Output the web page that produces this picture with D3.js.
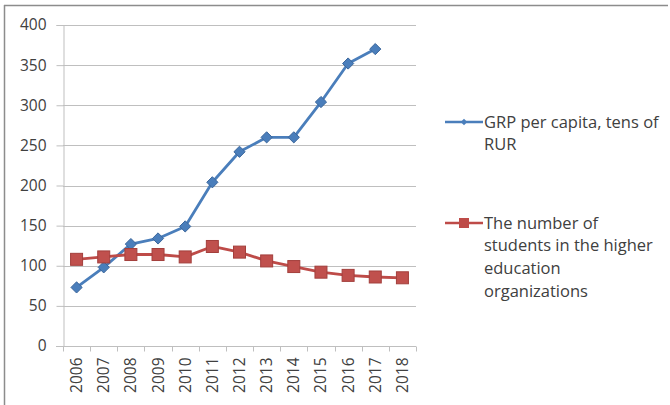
<!DOCTYPE html>
<html>
<head>
<meta charset="utf-8">
<script src="https://cdn.jsdelivr.net/npm/d3@7"></script>
<style>
  html, body { margin: 0; padding: 0; background: #fff; }
  svg { display: block; }
  text { font-family: "Open Sans", Lato, sans-serif; fill: #404040; }
</style>
</head>
<body>
<svg id="chart" width="670" height="405"></svg>
<script>
// Years on the category axis
const years = ["2006","2007","2008","2009","2010","2011","2012","2013","2014","2015","2016","2017","2018"];
// GRP per capita, tens of RUR (no value for 2018)
const grpValues = [73, 98, 127, 134, 149, 204, 242, 260, 260, 304, 352, 370, null];
// Students in higher education organizations
const studentValues = [108, 111, 114, 114, 111, 124, 117, 106, 99, 92, 88, 86, 85];
// Value-axis tick labels
const yTicks = [0, 50, 100, 150, 200, 250, 300, 350, 400];
// Legend entries
const grpLabel = ["GRP per capita, tens of", "RUR"];
const studentLabel = ["The number of", "students in the higher", "education", "organizations"];

const svg = d3.select("#chart");
const plot = { left: 63, right: 416, top: 25, bottom: 346 };
const fontFamily = "'Open Sans', Lato, sans-serif";

const x = d3.scaleBand().domain(years).range([plot.left, plot.right]);
const y = d3.scaleLinear().domain([0, 400]).range([plot.bottom, plot.top]);

// Outer chart frame (left and top edges)
svg.append("line").attr("x1", 4.5).attr("x2", 4.5).attr("y1", 5).attr("y2", 405)
  .attr("stroke", "#8c8c8c").attr("stroke-width", 1.5);
svg.append("line").attr("x1", 4).attr("x2", 668).attr("y1", 5.5).attr("y2", 5.5)
  .attr("stroke", "#8c8c8c").attr("stroke-width", 1.5);

// Horizontal gridlines
svg.append("g").selectAll("line").data(yTicks.filter(d => d > 0)).join("line")
  .attr("x1", plot.left).attr("x2", plot.right)
  .attr("y1", d => Math.round(y(d)) + 0.5).attr("y2", d => Math.round(y(d)) + 0.5)
  .attr("stroke", "#bfbfbf").attr("stroke-width", 1.2);

// Value axis
const yAxis = svg.append("g")
  .attr("transform", `translate(${plot.left + 0.5},0)`)
  .call(d3.axisLeft(y).tickValues(yTicks).tickSize(7).tickPadding(10).tickFormat(d3.format("d")));
yAxis.select(".domain").attr("stroke", "#bfbfbf");
yAxis.selectAll(".tick line").attr("stroke", "#bfbfbf");
yAxis.selectAll(".tick text").attr("font-size", 15.5).attr("fill", "#404040")
  .attr("font-family", fontFamily);

// Category axis with ticks between categories
const xAxis = svg.append("g").attr("transform", `translate(0,${plot.bottom + 0.5})`);
xAxis.append("line").attr("x1", plot.left - 7).attr("x2", plot.right)
  .attr("stroke", "#bfbfbf");
xAxis.selectAll("line.sep").data(years.concat(["end"])).join("line").attr("class", "sep")
  .attr("x1", (d, i) => Math.round(plot.left + i * x.step()) + 0.5)
  .attr("x2", (d, i) => Math.round(plot.left + i * x.step()) + 0.5)
  .attr("y1", 0).attr("y2", 5).attr("stroke", "#bfbfbf");
xAxis.selectAll("text").data(years).join("text")
  .attr("transform", d => `translate(${x(d) + x.bandwidth() / 2 + 5.5},${11}) rotate(-90)`)
  .attr("text-anchor", "end")
  .attr("font-size", 15.5)
  .text(d => d);

const cx = d => x(d) + x.bandwidth() / 2;

// GRP series
const grpPts = years.map((d, i) => ({ year: d, v: grpValues[i] })).filter(p => p.v != null);
const line = d3.line().x(p => cx(p.year)).y(p => y(p.v));
svg.append("path").datum(grpPts).attr("d", line)
  .attr("fill", "none").attr("stroke", "#4a7ebb").attr("stroke-width", 2.8)
  .attr("stroke-linejoin", "round");

// Students series
const stuPts = years.map((d, i) => ({ year: d, v: studentValues[i] }));
svg.append("path").datum(stuPts).attr("d", line)
  .attr("fill", "none").attr("stroke", "#be4b48").attr("stroke-width", 2.8)
  .attr("stroke-linejoin", "round");

// Markers
const diamond = d3.symbol().type(d3.symbolDiamond2).size(80);
svg.append("g").selectAll("path").data(grpPts).join("path")
  .attr("d", diamond)
  .attr("transform", p => `translate(${cx(p.year)},${y(p.v)})`)
  .attr("fill", "#4a7ebb").attr("stroke", "#3c679c").attr("stroke-width", 1);
svg.append("g").selectAll("rect").data(stuPts).join("rect")
  .attr("x", p => cx(p.year) - 6).attr("y", p => y(p.v) - 6)
  .attr("width", 12).attr("height", 12)
  .attr("fill", "#c0504d").attr("stroke", "#a33f3c").attr("stroke-width", 1);

// Legend
function legendEntry(top, color, lines, marker) {
  const g = svg.append("g");
  g.append("line").attr("x1", 445).attr("x2", 483).attr("y1", top).attr("y2", top)
    .attr("stroke", color).attr("stroke-width", 2.4);
  if (marker === "diamond") {
    g.append("path").attr("d", d3.symbol().type(d3.symbolDiamond2).size(26))
      .attr("transform", `translate(464,${top})`).attr("fill", color);
  } else {
    g.append("rect").attr("x", 459).attr("y", top - 5).attr("width", 10).attr("height", 10)
      .attr("fill", color);
  }
  g.selectAll("text").data(lines).join("text")
    .attr("x", 484).attr("y", (d, i) => top + 5.5 + i * 22.7)
    .attr("font-size", 16.5).text(d => d);
}
legendEntry(122, "#4a7ebb", grpLabel, "diamond");
legendEntry(223, "#be4b48", studentLabel, "square");
</script>
</body>
</html>
